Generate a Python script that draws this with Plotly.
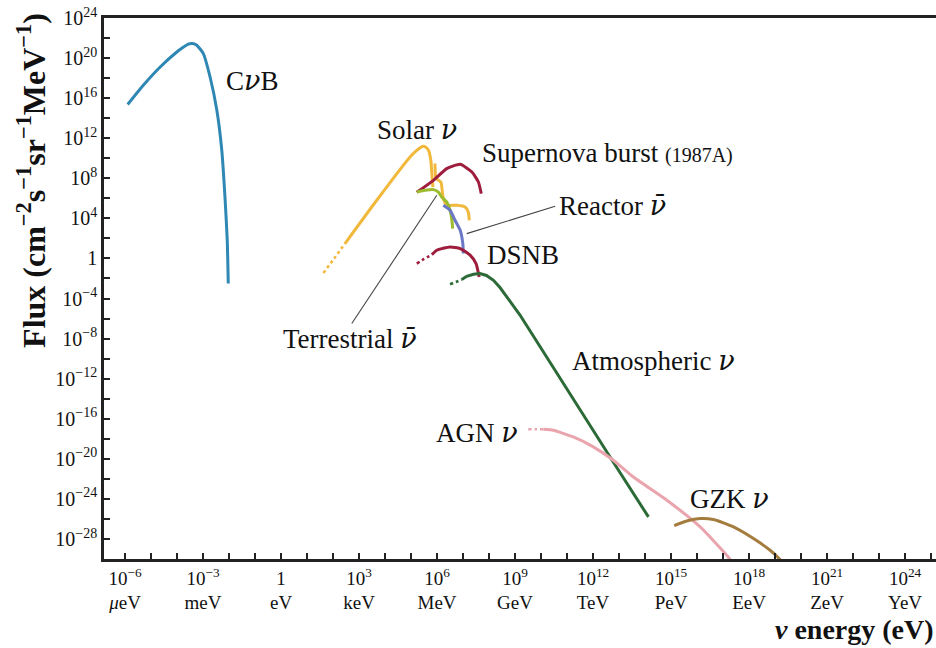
import numpy as np
import plotly.graph_objects as go

# ---- spectra: log10(energy / eV) and log10(flux / cm^-2 s^-1 sr^-1 MeV^-1) ----
cnb_logE = [-5.90, -5.30, -4.65, -4.01, -3.75, -3.57, -3.40, -3.24, -2.99, -2.73, -2.47, -2.28, -2.15, -2.07, -2.03]
cnb_logF = [15.36, 17.28, 19.11, 20.61, 21.10, 21.40, 21.45, 21.28, 20.45, 18.11, 14.79, 10.80, 5.81, 1.81, -2.50]

solar_dot_logE = [1.63, 2.05, 2.46]
solar_dot_logF = [-1.45, 0.02, 1.49]
solar_pp_logE = [2.46, 3.68, 4.96, 5.35, 5.47, 5.54, 5.67, 5.76, 5.80, 5.84]
solar_pp_logF = [1.49, 5.81, 10.13, 11.05, 11.20, 11.15, 10.80, 9.80, 8.47, 7.13]
solar_b8_logE = [5.92, 5.96, 6.15, 6.23, 6.37, 6.76, 7.08, 7.20, 7.24]
solar_b8_logF = [9.47, 8.00, 7.60, 6.11, 5.31, 5.31, 5.14, 4.64, 3.81]

sn_logE = [5.22, 5.86, 6.37, 6.89, 7.34, 7.59, 7.70]
sn_logF = [6.60, 7.80, 8.97, 9.40, 8.63, 7.63, 6.47]

terr_logE = [5.22, 5.54, 5.86, 6.05, 6.18, 6.37, 6.50, 6.57, 6.60]
terr_logF = [6.63, 6.80, 6.87, 6.63, 6.14, 5.64, 4.81, 3.81, 2.98]

reactor_logE = [6.24, 6.50, 6.69, 6.89, 6.99, 7.01]
reactor_logF = [5.31, 4.81, 3.81, 2.81, 1.49, 0.49]

dsnb_dot_logE = [5.22, 5.50, 5.80]
dsnb_dot_logF = [-0.51, -0.05, 0.38]
dsnb_logE = [5.80, 5.99, 6.50, 6.89, 7.27, 7.50, 7.62]
dsnb_logF = [0.38, 0.82, 1.15, 0.99, 0.33, -0.51, -1.85]

atm_dot_logE = [6.50, 6.75, 6.95]
atm_dot_logF = [-2.58, -2.32, -2.11]
atm_logE = [6.95, 7.14, 7.40, 7.65, 7.90, 8.17, 8.42, 8.68, 8.94, 9.19, 12.77, 14.13]
atm_logF = [-2.11, -1.78, -1.58, -1.51, -1.70, -2.18, -2.90, -3.84, -4.75, -5.65, -20.30, -25.80]

agn_dot_logE = [9.51, 9.80, 10.09]
agn_dot_logF = [-17.05, -17.05, -17.05]
agn_logE = [10.09, 10.47, 11.24, 12.01, 12.78, 13.55, 14.84, 16.12, 17.20, 17.40]
agn_logF = [-17.05, -17.15, -17.82, -18.81, -20.14, -21.81, -24.13, -26.80, -29.80, -30.60]

gzk_logE = [15.12, 15.60, 16.12, 16.63, 17.40, 18.17, 18.81, 19.19, 19.30]
gzk_logF = [-26.66, -26.20, -25.96, -26.06, -26.80, -27.96, -29.13, -30.05, -30.40]

# leader lines from labels to curves
reactor_lead_logE = [7.14, 10.54]
reactor_lead_logF = [2.48, 5.21]
terr_lead_logE = [5.99, 2.72]
terr_lead_logF = [6.31, -6.50]

# axis ticks
x_tick_exp = list(range(-6, 26))
x_label_exp = [-6, -3, 0, 3, 6, 9, 12, 15, 18, 21, 24]
x_units = ["<i>μ</i>eV", "meV", "eV", "keV", "MeV", "GeV", "TeV", "PeV", "EeV", "ZeV", "YeV"]
y_tick_exp = list(range(-30, 25, 2))
y_label_exp = list(range(-28, 25, 4))

C_CNB = "#2f88b4"
C_SOLAR = "#f1b93c"
C_SN = "#9e1d3d"
C_TERR = "#9cbb2f"
C_REACT = "#6b78c6"
C_ATM = "#2c6b37"
C_AGN = "#eaa4ad"
C_GZK = "#a47c3d"

FONT = "Liberation Serif"
NU = "<span style='font-family:DejaVu Serif'><i>ν</i></span>"
NUBAR = "<span style='font-family:DejaVu Serif'><i>ν̄</i></span>"


def p(v):
    return np.power(10.0, np.asarray(v, dtype=float))


fig = go.Figure()


def curve(lx, ly, color, width=3.0, dash="solid", shape="spline"):
    line = dict(color=color, width=width, dash=dash, shape=shape)
    if shape == "spline":
        line["smoothing"] = 0.5
    fig.add_trace(go.Scatter(
        x=p(lx), y=p(ly), mode="lines", line=line,
        hoverinfo="skip", showlegend=False, cliponaxis=True))


def straight(lx, ly, color, width=1.0):
    fig.add_trace(go.Scatter(
        x=p(lx), y=p(ly), mode="lines",
        line=dict(color=color, width=width),
        hoverinfo="skip", showlegend=False))


straight(reactor_lead_logE, reactor_lead_logF, "#444444", 1.1)
straight(terr_lead_logE, terr_lead_logF, "#444444", 1.1)

curve(cnb_logE, cnb_logF, C_CNB)
curve(solar_dot_logE, solar_dot_logF, C_SOLAR, 2.6, "dot")
curve(solar_pp_logE, solar_pp_logF, C_SOLAR)
curve(solar_b8_logE, solar_b8_logF, C_SOLAR)
curve(sn_logE, sn_logF, C_SN)
curve(terr_logE, terr_logF, C_TERR)
curve(reactor_logE, reactor_logF, C_REACT)
curve(dsnb_dot_logE, dsnb_dot_logF, C_SN, 2.6, "dot")
curve(dsnb_logE, dsnb_logF, C_SN)
curve(atm_dot_logE, atm_dot_logF, C_ATM, 2.6, "dot")
curve(atm_logE, atm_logF, C_ATM, shape="linear")
curve(agn_dot_logE, agn_dot_logF, C_AGN, 2.6, "dot")
curve(agn_logE, agn_logF, C_AGN)
curve(gzk_logE, gzk_logF, C_GZK)


def sup(e):
    s = str(e).replace("-", "−")
    return "1" if e == 0 else f"10<sup>{s}</sup>"


x_text = []
for e in x_tick_exp:
    if e in x_label_exp:
        x_text.append(sup(e) + "<br>" + x_units[x_label_exp.index(e)])
    else:
        x_text.append("")
y_text = [sup(e) if e in y_label_exp else "" for e in y_tick_exp]

fig.update_xaxes(
    type="log", range=[-6.81, 25.19],
    tickvals=p(x_tick_exp), ticktext=x_text,
    ticks="inside", ticklen=6, tickwidth=1.5, tickcolor="#222222",
    showline=True, linewidth=2.6, linecolor="#222222", mirror=True,
    showgrid=False, zeroline=False,
    tickfont=dict(family=FONT, size=19, color="#111111"),
)
fig.update_yaxes(
    type="log", range=[-30, 24],
    tickvals=p(y_tick_exp), ticktext=y_text,
    ticks="inside", ticklen=6, tickwidth=1.5, tickcolor="#222222",
    showline=True, linewidth=2.6, linecolor="#222222", mirror=False,
    showgrid=False, zeroline=False,
    tickfont=dict(family=FONT, size=20, color="#111111"),
)

labels = [
    ("C" + NU + "B", -1.12, 17.78, "center"),
    ("Solar " + NU, 5.23, 12.89, "center"),
    ("Supernova burst <span style='font-size:20px'>(1987A)</span>", 7.65, 10.5, "left"),
    ("Reactor " + NUBAR, 10.6, 5.3, "left"),
    ("DSNB", 9.31, 0.32, "center"),
    ("Terrestrial " + NUBAR, 2.65, -7.96, "center"),
    ("Atmospheric " + NU, 14.31, -10.16, "center"),
    ("AGN " + NU, 7.54, -17.35, "center"),
    ("GZK " + NU, 17.23, -23.93, "center"),
]
for txt, lx, ly, anchor in labels:
    fig.add_annotation(x=lx, y=ly, xref="x", yref="y", text=txt, showarrow=False,
                       xanchor=anchor, yanchor="middle",
                       font=dict(family=FONT, size=27, color="#111111"))

fig.add_annotation(
    x=1.0, y=-0.13, xref="paper", yref="paper", xanchor="right", yanchor="middle",
    text="<b><i>ν</i> energy (eV)</b>", showarrow=False,
    font=dict(family=FONT, size=28, color="#111111"))
fig.add_annotation(
    x=-0.087, y=0.70, xref="paper", yref="paper", xanchor="center", yanchor="middle",
    text="<b>Flux (cm<sup>−2</sup>s<sup>−1</sup>sr<sup>−1</sup>MeV<sup>−1</sup>)</b>",
    textangle=-90, showarrow=False,
    font=dict(family=FONT, size=32, color="#111111"))

fig.update_layout(
    width=936, height=648,
    margin=dict(l=104, r=0, t=18, b=89),
    paper_bgcolor="white", plot_bgcolor="white",
    showlegend=False,
)

fig.write_html("out.html")
